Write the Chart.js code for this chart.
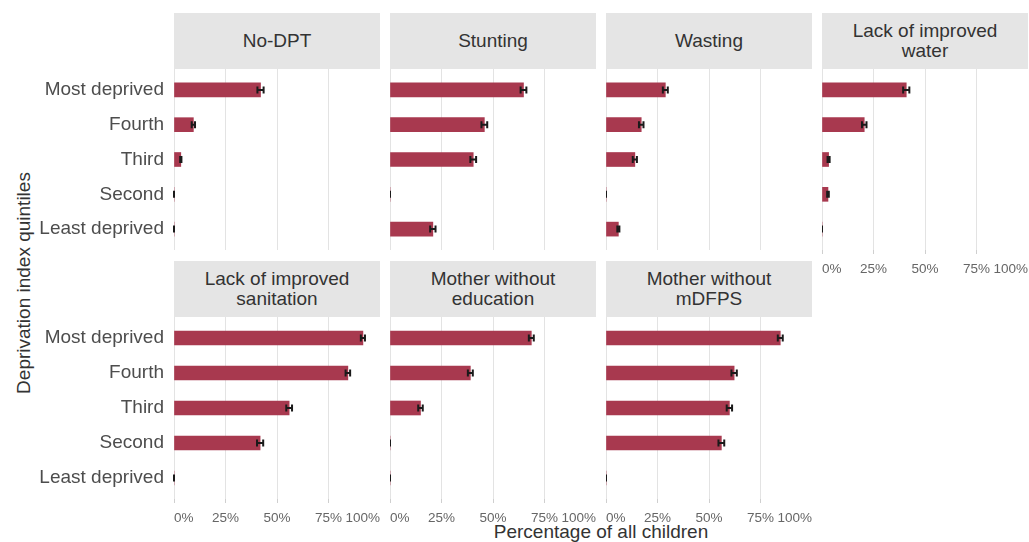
<!DOCTYPE html>
<html>
<head>
<meta charset="utf-8">
<script src="https://cdn.jsdelivr.net/npm/chart.js@4"></script>
<style>
  body { margin: 0; background: #fff; font-family: "Liberation Sans", Arial, sans-serif; }
  #wrap { position: relative; width: 1029px; height: 542px; overflow: hidden; }
  canvas { position: absolute; }
  .strip { position: absolute; background: #e5e5e5; color: #333; font-size: 19px; line-height: 20px;
           display: flex; align-items: center; justify-content: center; text-align: center; white-space: pre; }
  .ytitle { position: absolute; left: 24px; top: 283px; transform: translate(-50%, -50%) rotate(-90deg);
            font-size: 19px; color: #333; white-space: nowrap; }
  .xtitle { position: absolute; left: 601px; top: 532px; transform: translate(-50%, -50%);
            font-size: 19px; color: #333; white-space: nowrap; }
</style>
</head>
<body>
<div id="wrap">
  <div class="ytitle">Deprivation index quintiles</div>
  <div class="xtitle">Percentage of all children</div>
</div>
<script>
// Categories (top to bottom)
const quintiles = ['Most deprived', 'Fourth', 'Third', 'Second', 'Least deprived'];
const xTicks = [0, 25, 50, 75, 100];

// Panel titles
const panelTitles = ['No-DPT', 'Stunting', 'Wasting', 'Lack of improved\nwater',
  'Lack of improved\nsanitation', 'Mother without\neducation', 'Mother without\nmDFPS'];

// Percentages per quintile
const noDpt       = [42.0,  9.4,  3.3,  0,    0];
const stunting    = [64.8, 45.8, 40.4,  0,   20.8];
const wasting     = [28.8, 17.1, 14.0,  0,    6.0];
const water       = [40.9, 20.5,  3.2,  2.9,  0];
const sanitation  = [91.7, 84.4, 55.9, 41.8,  0];
const motherEdu   = [68.6, 39.0, 14.8,  0,    0];
const motherMdfps = [84.6, 62.2, 59.9, 56.0,  0];

// Error bar half-widths (percentage points)
const noDptErr       = [1.5, 0.8, 0.3, 0,   0];
const stuntingErr    = [1.4, 1.4, 1.4, 0,   1.3];
const wastingErr     = [1.2, 1.1, 1.0, 0,   0.5];
const waterErr       = [1.5, 1.1, 0.5, 0.4, 0];
const sanitationErr  = [1.0, 1.1, 1.4, 1.5, 0];
const motherEduErr   = [1.2, 1.2, 1.1, 0,   0];
const motherMdfpsErr = [1.2, 1.3, 1.3, 1.4, 0];

const panelValues = [noDpt, stunting, wasting, water, sanitation, motherEdu, motherMdfps];
const panelErrors = [noDptErr, stuntingErr, wastingErr, waterErr, sanitationErr, motherEduErr, motherMdfpsErr];

Chart.defaults.font.family = '"Liberation Sans", Arial, sans-serif';

// draws the little error bars on top of the bars
const errorBars = {
  id: 'errorBars',
  afterDatasetsDraw(chart) {
    const ctx = chart.ctx;
    const xs = chart.scales.x, ys = chart.scales.y;
    const ds = chart.data.datasets[0];
    ctx.save();
    ctx.strokeStyle = '#1a1a1a';
    ctx.lineWidth = 2;
    ds.data.forEach((p, i) => {
      const e = ds.err[i];
      const x1 = xs.getPixelForValue(p.x - e);
      const x2 = xs.getPixelForValue(p.x + e);
      const y = ys.getPixelForValue(p.y);
      ctx.beginPath();
      ctx.moveTo(x1, y); ctx.lineTo(x2, y);
      ctx.moveTo(x1, y - 3.5); ctx.lineTo(x1, y + 3.5);
      ctx.moveTo(x2, y - 3.5); ctx.lineTo(x2, y + 3.5);
      ctx.stroke();
    });
    ctx.restore();
  }
};

// layout of panels
const colLeft = [174, 390, 606, 822];
const panelW = 206;
const rows = [{ strip: 13, top: 69, h: 181 }, { strip: 261, top: 317, h: 182 }];
const panelPos = [[0, 0], [0, 1], [0, 2], [0, 3], [1, 0], [1, 1], [1, 2]];
const withTicks = [false, false, false, true, true, true, true];

const wrap = document.getElementById('wrap');

panelValues.forEach((vals, k) => {
  const [r, c] = panelPos[k];
  const row = rows[r];
  const firstCol = c === 0;
  const yAxisW = firstCol ? 154 : 0;
  const xAxisH = withTicks[k] ? 30 : 0;

  const strip = document.createElement('div');
  strip.className = 'strip';
  strip.style.left = colLeft[c] + 'px';
  strip.style.top = row.strip + 'px';
  strip.style.width = panelW + 'px';
  strip.style.height = (row.top - row.strip) + 'px';
  strip.textContent = panelTitles[k];
  wrap.appendChild(strip);

  const cv = document.createElement('canvas');
  cv.width = panelW + yAxisW;
  cv.height = row.h + xAxisH;
  cv.style.left = (colLeft[c] - yAxisW) + 'px';
  cv.style.top = row.top + 'px';
  wrap.appendChild(cv);

  new Chart(cv.getContext('2d'), {
    type: 'bar',
    data: {
      datasets: [{
        data: vals.map((v, i) => ({ x: v, y: i })),
        err: panelErrors[k],
        backgroundColor: '#a8394f',
        borderWidth: 0,
        barThickness: 14
      }]
    },
    options: {
      indexAxis: 'y',
      responsive: false,
      animation: false,
      layout: { padding: 0 },
      plugins: { legend: { display: false }, tooltip: { enabled: false } },
      scales: {
        x: {
          type: 'linear',
          min: 0, max: 100,
          afterBuildTicks: s => { s.ticks = xTicks.map(v => ({ value: v })); },
          afterFit: s => { s.height = xAxisH; s.paddingLeft = 0; s.paddingRight = 0; },
          grid: { color: '#e3e3e3', lineWidth: 1, drawTicks: withTicks[k], tickLength: 4, tickColor: '#cfcfcf' },
          border: { display: false },
          ticks: {
            display: withTicks[k],
            align: 'inner',
            padding: 7,
            color: '#666',
            font: { size: 13.5 },
            maxRotation: 0,
            callback: v => v + '%'
          }
        },
        y: {
          type: 'linear',
          display: firstCol,
          reverse: true,
          offset: false,
          min: -0.6, max: 4.6,
          afterBuildTicks: s => { s.ticks = quintiles.map((q, i) => ({ value: i })); },
          afterFit: s => { s.width = yAxisW; s.paddingTop = 0; s.paddingBottom = 0; },
          grid: { display: false, offset: false },
          border: { display: false },
          ticks: {
            padding: 2,
            color: '#4d4d4d',
            font: { size: 19 },
            callback: v => quintiles[v]
          }
        }
      }
    },
    plugins: [errorBars]
  });
});
</script>
</body>
</html>
